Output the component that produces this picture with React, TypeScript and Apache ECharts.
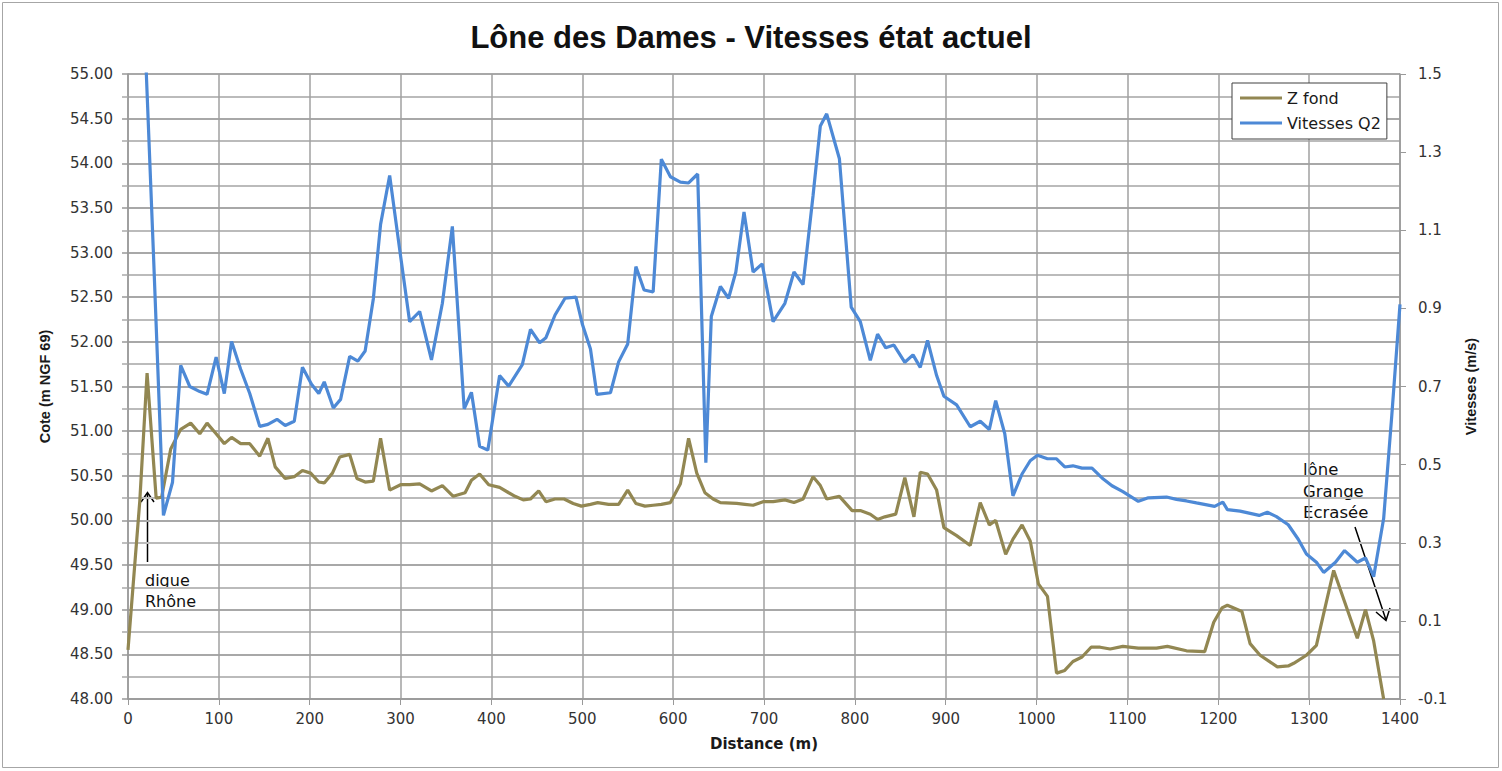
import React, { useEffect, useRef } from "react";
import * as echarts from "echarts";

// Z fond (m NGF 69) — profile distance (m) and bottom elevation
const zDistance = [
  0, 13, 21, 31, 37, 47, 58, 69, 79, 87, 97, 106, 114, 124, 134, 145, 154, 162, 173, 183,
  192, 201, 210, 216, 225, 233, 244, 252, 261, 270, 278, 288, 300, 310, 321, 334, 346, 358, 371, 378,
  387, 397, 409, 419, 426, 435, 443, 452, 460, 470, 480, 490, 499, 509, 517, 529, 540, 550, 559, 569,
  578, 587, 597, 608, 617, 626, 635, 644, 652, 670, 679, 688, 699, 710, 723, 733, 743, 754, 762, 769,
  783, 797, 806, 817, 825, 833, 845, 855, 865, 872, 880, 890, 898, 912, 927, 938, 948, 955, 966, 974,
  984, 993, 1002, 1012, 1022, 1031, 1040, 1050, 1060, 1070, 1081, 1095, 1112, 1132, 1144, 1165, 1185, 1195, 1204, 1210,
  1226, 1235, 1246, 1265, 1277, 1283, 1297, 1308, 1317, 1327, 1339, 1353, 1362, 1371, 1382,
];
const zFond = [
  48.55, 50.22, 51.65, 50.25, 50.26, 50.8, 51.02, 51.09, 50.97, 51.09, 50.97, 50.86, 50.93, 50.86, 50.86, 50.72, 50.92, 50.6, 50.47, 50.49,
  50.56, 50.53, 50.43, 50.42, 50.53, 50.71, 50.74, 50.47, 50.43, 50.44, 50.92, 50.34, 50.4, 50.4, 50.41, 50.33, 50.39, 50.27, 50.31, 50.45,
  50.52, 50.4, 50.37, 50.31, 50.27, 50.23, 50.24, 50.33, 50.21, 50.24, 50.24, 50.19, 50.16, 50.18, 50.2, 50.18, 50.18, 50.34, 50.19, 50.16,
  50.17, 50.18, 50.2, 50.41, 50.92, 50.53, 50.31, 50.24, 50.2, 50.19, 50.18, 50.17, 50.21, 50.21, 50.23, 50.2, 50.24, 50.49, 50.39, 50.24,
  50.27, 50.11, 50.11, 50.07, 50.01, 50.04, 50.07, 50.48, 50.04, 50.54, 50.52, 50.34, 49.92, 49.83, 49.72, 50.2, 49.95, 50.0, 49.62, 49.79,
  49.95, 49.77, 49.29, 49.15, 48.29, 48.32, 48.42, 48.47, 48.58, 48.58, 48.56, 48.59, 48.57, 48.57, 48.59, 48.54, 48.53, 48.86, 49.02, 49.05,
  48.98, 48.62, 48.49, 48.36, 48.37, 48.4, 48.49, 48.6, 49.0, 49.44, 49.09, 48.68, 49.0, 48.65, 48.0,
];

// Vitesses Q2 (m/s)
const vDistance = [
  10, 28, 39, 49, 58, 68, 79, 87, 97, 106, 114, 124, 134, 145, 154, 164, 173, 183, 192, 202,
  210, 216, 226, 234, 244, 253, 261, 270, 278, 288, 299, 310, 321, 334, 346, 357, 370, 378, 387, 396,
  409, 419, 434, 443, 453, 460, 470, 481, 493, 500, 509, 516, 531, 540, 550, 559, 568, 578, 587, 597,
  608, 617, 627, 636, 642, 652, 661, 669, 678, 688, 698, 710, 723, 733, 743, 754, 762, 769, 783, 796,
  806, 817, 825, 834, 843, 855, 864, 872, 880, 890, 898, 912, 927, 938, 948, 955, 965, 974, 984, 993,
  1001, 1012, 1022, 1031, 1040, 1050, 1061, 1072, 1083, 1095, 1112, 1123, 1143, 1154, 1165, 1176, 1196, 1205, 1210, 1224,
  1245, 1254, 1264, 1277, 1288, 1297, 1308, 1316, 1329, 1339, 1353, 1362, 1371, 1382, 1391, 1400,
];
const vitesses = [
  2.1, 1.04, 0.37, 0.455, 0.754, 0.7, 0.687, 0.68, 0.775, 0.682, 0.815, 0.744, 0.682, 0.598, 0.603, 0.616, 0.6, 0.611, 0.749, 0.706,
  0.682, 0.712, 0.645, 0.667, 0.777, 0.765, 0.791, 0.924, 1.115, 1.24, 1.051, 0.866, 0.892, 0.768, 0.913, 1.11, 0.643, 0.685, 0.547, 0.537,
  0.728, 0.701, 0.756, 0.846, 0.812, 0.825, 0.883, 0.926, 0.929, 0.86, 0.796, 0.68, 0.684, 0.763, 0.809, 1.007, 0.947, 0.942, 1.282, 1.237,
  1.223, 1.221, 1.244, 0.505, 0.879, 0.956, 0.926, 0.993, 1.147, 0.993, 1.014, 0.866, 0.913, 0.993, 0.961, 1.189, 1.367, 1.398, 1.283, 0.903,
  0.866, 0.767, 0.834, 0.799, 0.806, 0.762, 0.781, 0.749, 0.818, 0.728, 0.675, 0.653, 0.597, 0.611, 0.59, 0.664, 0.579, 0.42, 0.476, 0.51,
  0.524, 0.515, 0.515, 0.494, 0.497, 0.491, 0.491, 0.466, 0.446, 0.431, 0.406, 0.415, 0.417, 0.411, 0.407, 0.402, 0.393, 0.404, 0.385, 0.381,
  0.37, 0.378, 0.367, 0.346, 0.309, 0.271, 0.25, 0.224, 0.25, 0.28, 0.25, 0.261, 0.213, 0.362, 0.627, 0.91,
];

const seriesNames = ["Z fond", "Vitesses Q2"];
const titleText = "Lône des Dames - Vitesses état actuel";
const annotationDigue = "digue\nRhône";
const annotationLone = "lône\nGrange\nEcrasée";

const OLIVE = "#928752";
const BLUE = "#4d89d6";
const LABEL_FONT = "DejaVu Sans";
const NAME_FONT = "Liberation Sans";

export default function App() {
  const ref = useRef<HTMLDivElement>(null);

  useEffect(() => {
    const chart = echarts.init(ref.current as HTMLDivElement, undefined, { renderer: "svg" });
    const axisLabelStyle = { color: "#333333", fontSize: 15, fontFamily: LABEL_FONT };
    chart.setOption({
      animation: false,
      backgroundColor: "#ffffff",
      textStyle: { fontFamily: LABEL_FONT },
      title: {
        text: titleText,
        left: "center",
        top: 22,
        padding: 0,
        textStyle: { fontFamily: NAME_FONT, fontWeight: "bold", fontSize: 31, color: "#111111" },
      },
      legend: {
        orient: "vertical",
        left: 1232,
        top: 83,
        padding: [7, 6, 8, 8],
        borderColor: "#404040",
        borderWidth: 1,
        backgroundColor: "#ffffff",
        icon: "rect",
        itemWidth: 42,
        itemHeight: 3,
        itemGap: 9,
        textStyle: { fontSize: 16, color: "#1a1a1a", fontFamily: LABEL_FONT },
        data: seriesNames,
      },
      grid: { left: 128, right: 102, top: 74, bottom: 72, containLabel: false },
      xAxis: {
        type: "value",
        min: 0,
        max: 1400,
        interval: 100,
        name: "Distance (m)",
        nameLocation: "middle",
        nameGap: 37,
        nameTextStyle: { fontFamily: LABEL_FONT, fontWeight: "bold", fontSize: 15, color: "#1a1a1a" },
        axisLine: { onZero: false, lineStyle: { color: "#999999", width: 1.5 } },
        axisTick: { show: true, length: 6, lineStyle: { color: "#999999" } },
        axisLabel: { ...axisLabelStyle, margin: 12, formatter: (v: number) => String(v) },
        splitLine: { show: true, lineStyle: { color: "#a0a0a0", width: 1.5 } },
      },
      yAxis: [
        {
          type: "value",
          min: 48,
          max: 55,
          interval: 0.5,
          position: "left",
          name: "Cote (m NGF 69)",
          nameLocation: "middle",
          nameGap: 76,
          nameTextStyle: { fontFamily: NAME_FONT, fontWeight: "bold", fontSize: 14.5, color: "#1a1a1a" },
          axisLine: { show: true, onZero: false, lineStyle: { color: "#999999", width: 1.5 } },
          axisTick: { show: true, length: 6, lineStyle: { color: "#999999", width: 1.5 } },
          minorTick: { show: true, splitNumber: 2, length: 6, lineStyle: { color: "#aaaaaa", width: 1.5 } },
          axisLabel: { ...axisLabelStyle, margin: 15, formatter: (v: number) => v.toFixed(2) },
          splitLine: { show: true, lineStyle: { color: "#a8a8a8", width: 2 } },
          minorSplitLine: { show: true, lineStyle: { color: "#bbbbbb", width: 2 } },
        },
        {
          type: "value",
          min: -0.1,
          max: 1.5,
          interval: 0.2,
          position: "right",
          name: "Vitesses (m/s)",
          nameLocation: "middle",
          nameGap: 63,
          nameTextStyle: { fontFamily: NAME_FONT, fontWeight: "bold", fontSize: 14.5, color: "#1a1a1a" },
          axisLine: { show: true, onZero: false, lineStyle: { color: "#999999", width: 1.5 } },
          axisTick: { show: true, length: 6, lineStyle: { color: "#999999" } },
          axisLabel: { ...axisLabelStyle, margin: 18, formatter: (v: number) => v.toFixed(1) },
          splitLine: { show: false },
        },
      ],
      series: [
        {
          name: seriesNames[0],
          type: "line",
          yAxisIndex: 0,
          data: zDistance.map((d, i) => [d, zFond[i]]),
          symbol: "none",
          clip: true,
          lineStyle: { color: OLIVE, width: 3.2 },
          itemStyle: { color: OLIVE },
          z: 3,
        },
        {
          name: seriesNames[1],
          type: "line",
          yAxisIndex: 1,
          data: vDistance.map((d, i) => [d, vitesses[i]]),
          symbol: "none",
          clip: true,
          lineStyle: { color: BLUE, width: 3.2 },
          itemStyle: { color: BLUE },
          z: 4,
        },
      ],
      graphic: [
        {
          type: "rect",
          silent: true,
          shape: { x: 2.5, y: 2.5, width: 1496, height: 765 },
          style: { fill: "none", stroke: "#a6a6a6", lineWidth: 1 },
        },
        {
          type: "text",
          x: 145,
          y: 570,
          silent: true,
          style: { text: annotationDigue, fontSize: 16, fontFamily: LABEL_FONT, fill: "#111111", lineHeight: 21 },
        },
        {
          type: "line",
          silent: true,
          shape: { x1: 147.5, y1: 562, x2: 147.5, y2: 493 },
          style: { stroke: "#000000", lineWidth: 1.5 },
        },
        {
          type: "polyline",
          silent: true,
          shape: { points: [[141, 502], [147.5, 492.5], [154, 502]] },
          style: { stroke: "#000000", lineWidth: 1.5, fill: "none" },
        },
        {
          type: "text",
          x: 1303,
          y: 459,
          silent: true,
          style: { text: annotationLone, fontSize: 16.5, fontFamily: LABEL_FONT, fill: "#111111", lineHeight: 21.5 },
        },
        {
          type: "line",
          silent: true,
          shape: { x1: 1355, y1: 527, x2: 1386, y2: 620 },
          style: { stroke: "#000000", lineWidth: 1.5 },
        },
        {
          type: "polyline",
          silent: true,
          shape: { points: [[1376, 612], [1386, 620.5], [1390, 608]] },
          style: { stroke: "#000000", lineWidth: 1.5, fill: "none" },
        },
      ],
    });
    return () => chart.dispose();
  }, []);

  return (
    <div
      ref={ref}
      style={{ position: "fixed", left: 0, top: 0, width: 1502, height: 771, background: "#ffffff" }}
    />
  );
}
